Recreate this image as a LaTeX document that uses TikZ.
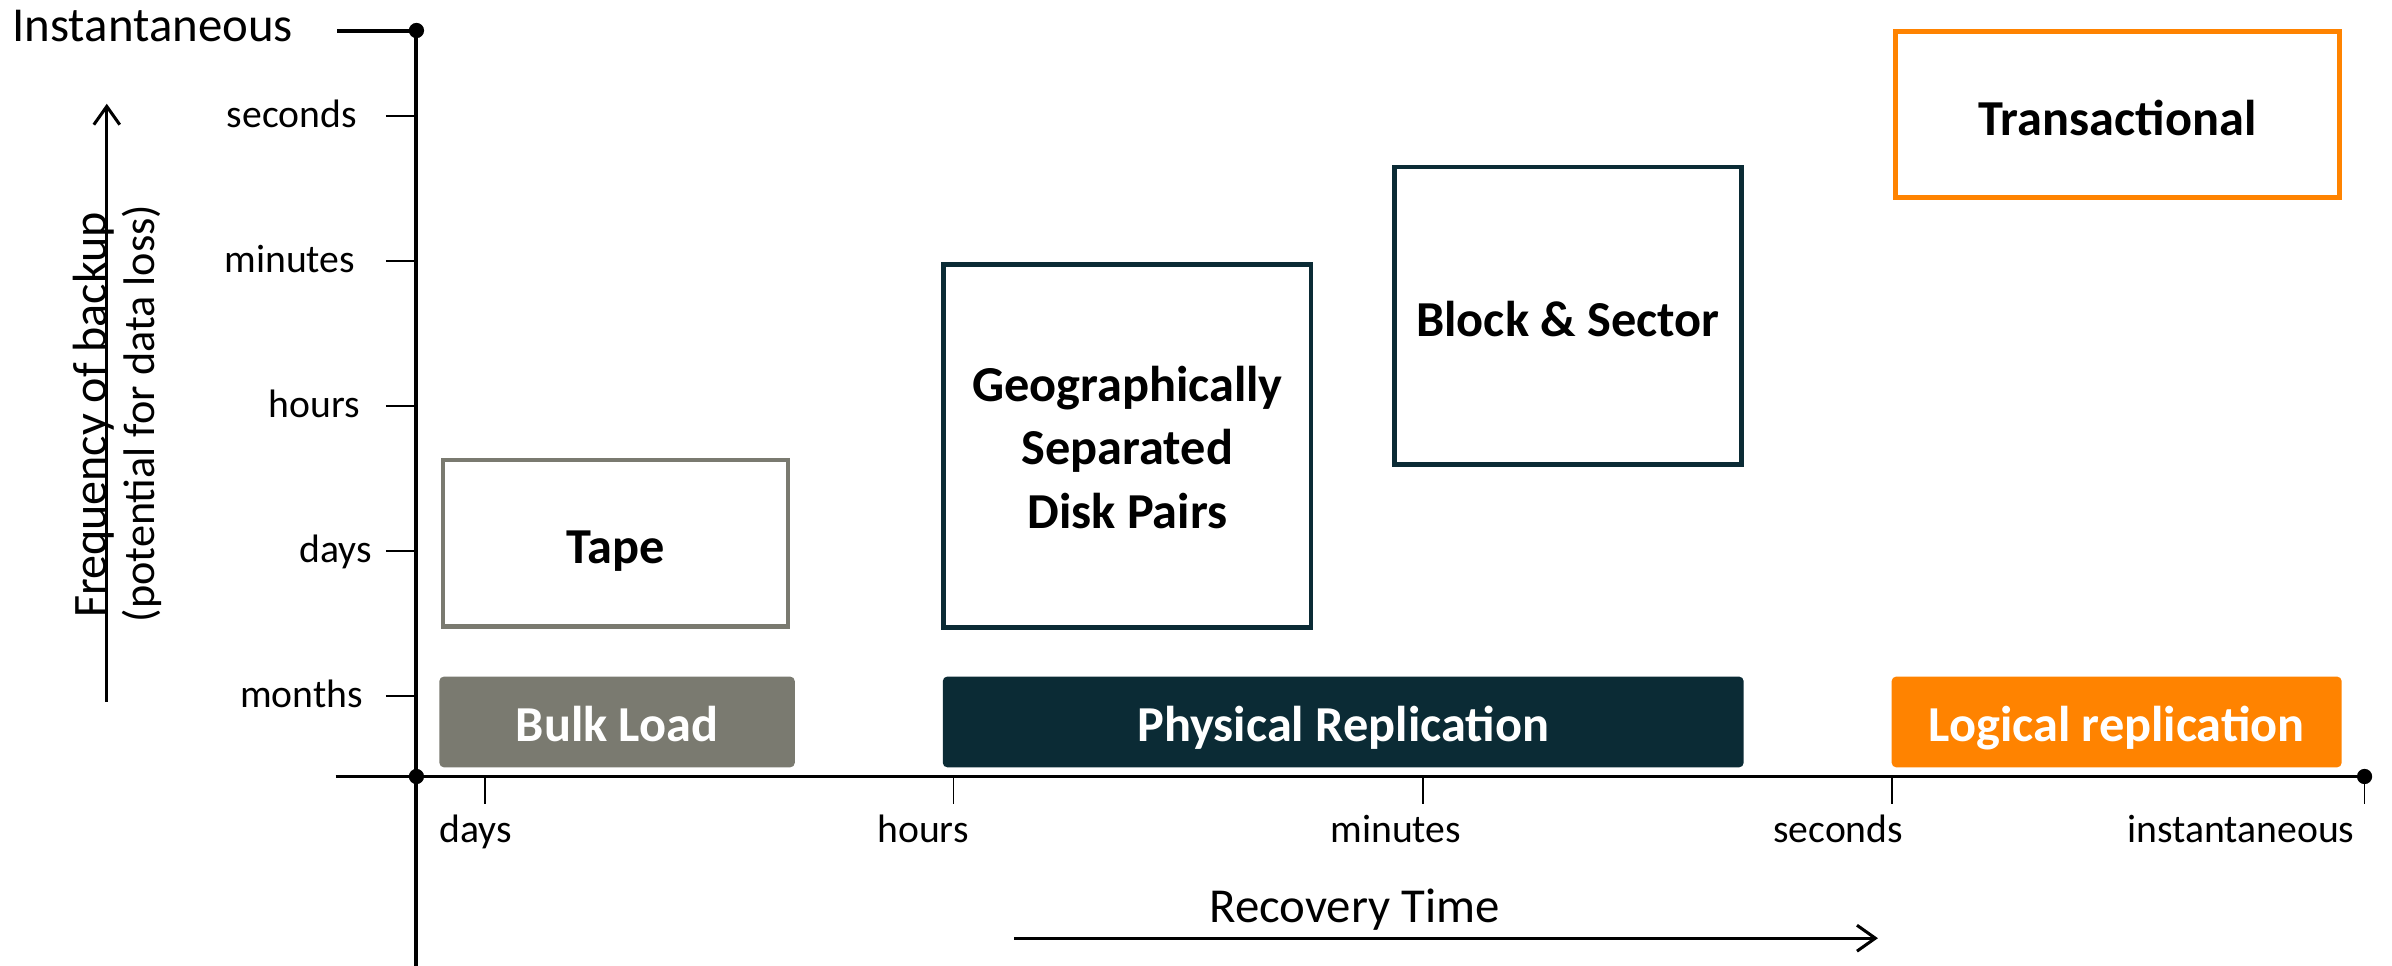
\documentclass[tikz,border=0pt]{standalone}
\usepackage{fontspec}
\setmainfont{Carlito}
\usetikzlibrary{arrows.meta}
\definecolor{hgray}{HTML}{7A7A70}
\definecolor{hteal}{HTML}{0B2B35}
\definecolor{horange}{HTML}{FF8300}
\begin{document}
\begin{tikzpicture}[x=1pt,y=-1pt,
  ax/.style={line width=2.6pt},
  tk/.style={line width=1.2pt},
  arr/.style={line width=2pt,-{Straight Barb[length=12pt,width=17pt,line width=2pt]}},
  lbl/.style={font=\fontsize{26}{30}\selectfont, inner sep=0pt},
  big/.style={font=\fontsize{32}{38}\selectfont, inner sep=0pt},
  boxtxt/.style={inner sep=0pt, align=center, text height=27pt, text depth=0pt,
    font=\bfseries\fontsize{33}{41.5}\selectfont},
  outbox/.style={boxtxt, draw, line width=3pt, fill=white},
  bar/.style={boxtxt, text height=25pt, rounded corners=3pt, text=white},
  dot/.style={circle, fill, inner sep=0pt, minimum size=10pt},
]
\useasboundingbox (0,0) rectangle (1568,633);

% axes
\coordinate (Ytop) at (273,20);
\coordinate (Ybot) at (273,633);
\coordinate (Xleft) at (220,509);
\coordinate (Xright) at (1550,509);
\coordinate (Orig) at (273,509);
\coordinate (Itl) at (221,20);
\draw[ax] (Ybot) -- (Ytop);
\draw[ax] (Xleft) -- (Xright);
\draw[ax] (Itl) -- (Ytop);
\node[dot] (dtop) at (Ytop) {};
\node[dot] (dorig) at (Orig) {};
\node[dot] (dright) at (Xright) {};

\node[big, anchor=base west] (inst) at (8,27) {Instantaneous};

% y ticks
\foreach \y/\n/\r in {76/seconds/234, 171/minutes/233, 266/hours/236, 361/days/244, 456/months/238}{
  \coordinate (ya\n) at (253,\y);
  \coordinate (yb\n) at (273,\y);
  \draw[tk] (ya\n) -- (yb\n);
  \node[lbl, anchor=base east] (yl\n) at (\r,\y+7.5) {\n};
}
% x ticks
\foreach \x/\c/\n in {318/312/days, 625/605/hours, 933/915/minutes, 1240/1205/seconds, 1550/1469/instantaneous}{
  \coordinate (xa\n) at (\x,509);
  \coordinate (xb\n) at (\x,527);
  \draw[tk] (xa\n) -- (xb\n);
  \node[lbl, anchor=base] (xl\n) at (\c,552) {\n};
}

% axis titles
\node[big, anchor=base] (rt) at (888,605) {Recovery Time};
\coordinate (ra) at (665,615);
\coordinate (rb) at (1231,615);
\draw[arr] (ra) -- (rb);

\coordinate (fa) at (70,460);
\coordinate (fb) at (70,68);
\draw[arr] (fa) -- (fb);
\node[font=\fontsize{31.5}{36}\selectfont, inner sep=0pt, rotate=90, anchor=base] (freq) at (70,272) {Frequency of backup};
\node[font=\fontsize{29}{33}\selectfont, inner sep=0pt, rotate=90, anchor=base] (pot) at (101,271) {(potential for data loss)};

% boxes
\node[outbox, draw=hgray, minimum width=226pt, minimum height=109pt] (tape) at (403.5,356) {Tape};
\node[outbox, draw=hteal, text height=107.6pt, text depth=0pt, minimum width=241pt, minimum height=238pt] (geo) at (739,292.5) {Geographically\\Separated\\Disk Pairs};
\node[outbox, draw=hteal, minimum width=227.5pt, minimum height=195pt] (block) at (1027.75,207) {Block \& Sector};
\node[outbox, draw=horange, minimum width=291pt, minimum height=109pt] (trans) at (1388,75) {Transactional};

\node[bar, fill=hgray, minimum width=233pt, minimum height=59.5pt] (bulk) at (404.5,473.25) {Bulk Load};
\node[bar, fill=hteal, minimum width=525pt, minimum height=59.5pt] (phys) at (880.5,473.25) {Physical Replication};
\node[bar, fill=horange, minimum width=295pt, minimum height=59.5pt] (logi) at (1387.5,473.25) {Logical replication};
\end{tikzpicture}
\end{document}
